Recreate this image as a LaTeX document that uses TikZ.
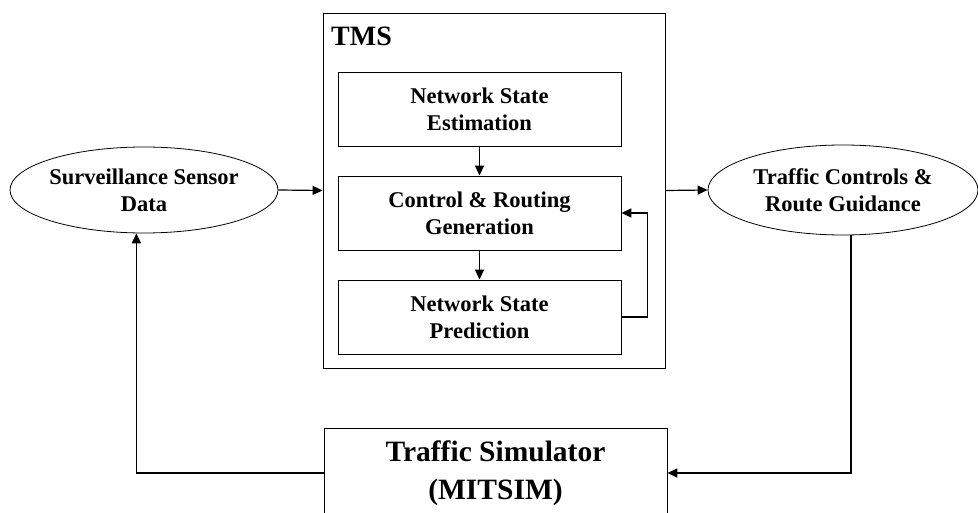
\documentclass[tikz,border=0pt]{standalone}
\usepackage{fontspec}
\setmainfont{Liberation Serif}
\usetikzlibrary{shapes.geometric,arrows.meta,calc}
\begin{document}
\begin{tikzpicture}[x=1pt,y=-1pt,
  txt/.style={font=\fontsize{22.5}{27}\selectfont\bfseries, align=center},
  stagebox/.style={draw, line width=0.9pt, minimum width=283pt, minimum height=74pt, inner sep=0pt, txt},
  oval/.style={draw, ellipse, line width=0.8pt, inner sep=0pt, txt},
  arr/.style={-{Triangle[length=10pt,width=9pt]}, line width=1.2pt},
  looparr/.style={-{Triangle[length=10pt,width=9pt]}, line width=1.7pt}
]
\useasboundingbox (0,0) rectangle (978,513);
\clip (0,0) rectangle (978,513);

% TMS container
\node[draw, line width=0.9pt, minimum width=342pt, minimum height=355pt, inner sep=0pt] (tms) at (494,190.5) {};
\node[font=\fontsize{28}{32}\selectfont\bfseries, anchor=west, inner sep=0pt] (tmsl) at (331,36) {TMS};

% inner stages
\node[stagebox] (b1) at (479.5,109) {Network State\\Estimation};
\node[stagebox] (b2) at (479.5,213) {Control \& Routing\\Generation};
\node[stagebox] (b3) at (479.5,317) {Network State\\Prediction};

% ellipses
\node[oval, minimum width=268pt, minimum height=86pt] (le) at (144,190) {Surveillance Sensor\\Data};
\node[oval, minimum width=270pt, minimum height=90pt] (re) at (843,190) {Traffic Controls \&\\Route Guidance};

% simulator
\node[draw, line width=0.9pt, minimum width=343pt, minimum height=90pt, inner sep=0pt, align=center,
      font=\fontsize{29.5}{38}\selectfont\bfseries] (ms) at (495.5,473) {Traffic Simulator\\(MITSIM)};

% connectors
\draw[looparr] (b1) -- (b2);
\draw[looparr] (b2) -- (b3);
\draw[looparr] (b3.east) -- ++(26,0) |- (b2.east);
\draw[arr] (le.east) -- (tms.west);
\draw[arr] (tms.east) -- (re.west);
\draw[looparr] (re.-80) |- (ms.east);
\draw[looparr] (ms.west) -| (le.-100);
\end{tikzpicture}
\end{document}
